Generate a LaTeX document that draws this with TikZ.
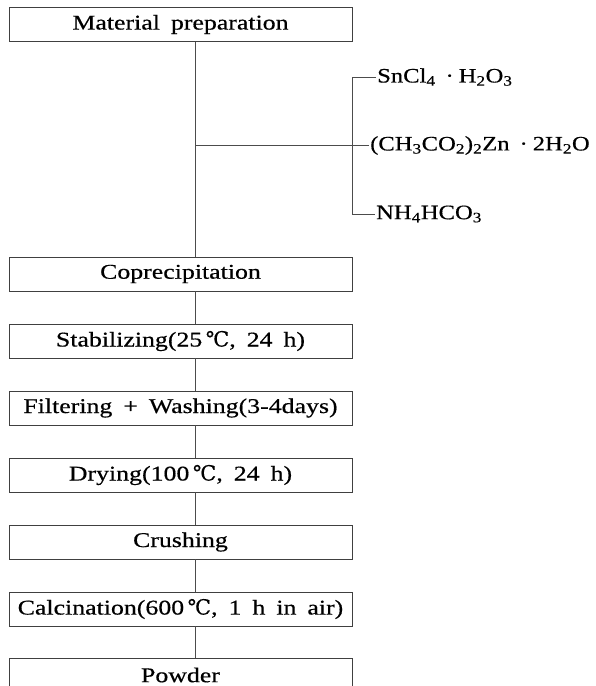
\documentclass[tikz,border=0pt]{standalone}
\usepackage{fontspec}
\setmainfont{Liberation Serif}[FakeStretch=1.23, WordSpace=1.7, FakeBold=0.5]
\newfontfamily\chemfont{Liberation Serif}[FakeStretch=1.2, FakeBold=0.5]
\newfontfamily\degfont{DejaVu Serif}[FakeBold=0.3]
\newcommand{\degC}{{\degfont ℃}}
\newcommand{\cdotsp}{\hspace{10pt}·\hspace{5pt}}
\begin{document}
\begin{tikzpicture}[x=1pt,y=-1pt,
  stepbox/.style={draw=black!75, line width=0.9pt, minimum width=343pt, minimum height=34pt, inner sep=0pt,
    font=\fontsize{21}{25}\selectfont, text=black},
  chem/.style={anchor=west, inner sep=1pt, font=\chemfont\fontsize{20.5}{25}\selectfont, text=black},
  link/.style={draw=black!70, line width=0.8pt}]
\useasboundingbox (0,0) rectangle (595,686);
\begin{scope}
\clip (0,0) rectangle (595,686);
\node[stepbox] (m) at (180.5,24.5) {Material preparation};
\node[stepbox] (c) at (180.5,274) {Coprecipitation};
\node[stepbox] (s) at (180.5,341) {Stabilizing(25\,\degC, 24 h)};
\node[stepbox] (f) at (180.5,408) {Filtering + Washing(3-4days)};
\node[stepbox] (d) at (180.5,475) {Drying(100\,\degC, 24 h)};
\node[stepbox] (k) at (180.5,542) {Crushing};
\node[stepbox] (a) at (180.5,609) {Calcination(600\,\degC, 1 h in air)};
\node[stepbox] (p) at (180.5,675) {Powder};

\node[chem] (r1) at (376,77) {SnCl\textsubscript{4}\cdotsp H\textsubscript{2}O\textsubscript{3}};
\node[chem] (r2) at (369,145.5) {(CH\textsubscript{3}CO\textsubscript{2})\textsubscript{2}Zn\cdotsp 2H\textsubscript{2}O};
\node[chem] (r3) at (375,214) {NH\textsubscript{4}HCO\textsubscript{3}};

\coordinate (j) at ([xshift=14.5pt]m.south |- r2.west);
\draw[link] ([xshift=14.5pt]m.south) -- ([xshift=14.5pt]c.north);
\draw[link] (j) -- (r2.west);
\draw[link] (r1.west) -- ++(-24,0) |- (r3.west);
\draw[link] ([xshift=14.5pt]c.south) -- ([xshift=14.5pt]s.north);
\draw[link] ([xshift=14.5pt]s.south) -- ([xshift=14.5pt]f.north);
\draw[link] ([xshift=14.5pt]f.south) -- ([xshift=14.5pt]d.north);
\draw[link] ([xshift=14.5pt]d.south) -- ([xshift=14.5pt]k.north);
\draw[link] ([xshift=14.5pt]k.south) -- ([xshift=14.5pt]a.north);
\draw[link] ([xshift=14.5pt]a.south) -- ([xshift=14.5pt]p.north);
\end{scope}
\end{tikzpicture}
\end{document}
